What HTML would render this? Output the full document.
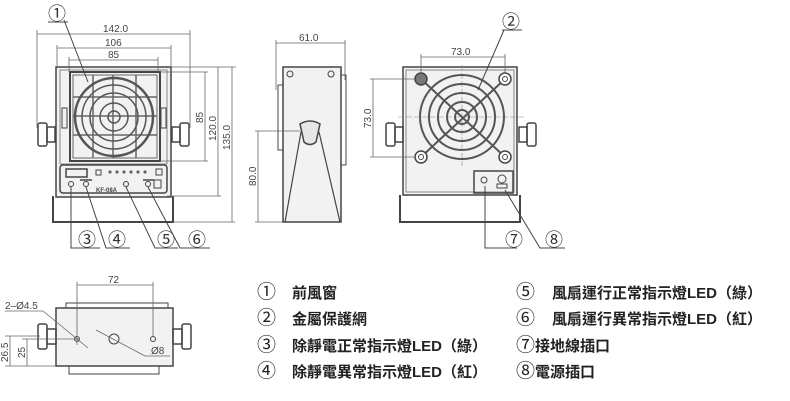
<!DOCTYPE html>
<html><head><meta charset="utf-8"><style>
html,body{margin:0;padding:0;background:#fff;}
svg{display:block;}
text{font-family:"Liberation Sans","Noto Sans CJK TC",sans-serif;}
</style></head><body>
<svg width="790" height="401" viewBox="0 0 790 401" xmlns="http://www.w3.org/2000/svg">
<g fill="none" stroke="#444" stroke-width="1">
<path d="M53 196 V222 H173 V196" stroke-width="2"/>
<rect x="56" y="67" width="115" height="130" fill="#f2f2f2" stroke-width="1.5"/>
<rect x="60" y="70" width="107" height="94" stroke="#888"/>
<rect x="70" y="72" width="90" height="89" stroke-width="2"/>
<rect x="73" y="75" width="84" height="83" stroke="#666"/>
<g stroke="#666" stroke-width="1.5">
<line x1="93" y1="75" x2="93" y2="158"/><line x1="113" y1="75" x2="113" y2="158"/><line x1="136" y1="75" x2="136" y2="158"/>
<line x1="73" y1="97" x2="157" y2="97"/><line x1="73" y1="116" x2="157" y2="116"/><line x1="73" y1="135" x2="157" y2="135"/>
</g>
<circle cx="114" cy="117" r="39" stroke-width="2.5" stroke="#555"/>
<circle cx="114" cy="117" r="32" stroke-width="1.5" stroke="#555"/>
<circle cx="114" cy="117" r="24" stroke-width="1.5" stroke="#555"/>
<circle cx="114" cy="117" r="14" stroke-width="1.5" stroke="#555"/>
<circle cx="114" cy="117" r="6" stroke-width="1.5" stroke="#555"/>
<rect x="62" y="108" width="5" height="20"/><rect x="161" y="108" width="5" height="20"/>
<rect x="60" y="165" width="107" height="28" rx="3" stroke-width="1.5"/>
<rect x="66" y="169" width="21" height="8" stroke-width="1.5"/>
<rect x="96" y="170" width="5" height="5"/>
<g fill="#666" stroke="none"><circle cx="110" cy="172" r="1.6"/><circle cx="117" cy="172" r="1.6"/><circle cx="124" cy="172" r="1.6"/><circle cx="131" cy="172" r="1.6"/><circle cx="138" cy="172" r="1.6"/><circle cx="145" cy="172" r="1.6"/></g>
<rect x="156" y="169" width="6" height="6"/>
<circle cx="71" cy="184" r="2.5"/><circle cx="86" cy="184" r="2.5"/><circle cx="126" cy="184" r="2.5"/><circle cx="148" cy="184" r="2.5"/>
<rect x="154" y="180" width="7" height="8"/>
<line x1="80" y1="180" x2="92" y2="180" stroke-width="1.5"/><line x1="143" y1="180" x2="154" y2="180" stroke-width="1.5"/>
<text x="96" y="192" font-size="6" fill="#444" stroke="none" font-weight="bold">KF-08A</text>
<rect x="38" y="123" width="9" height="23" rx="2" stroke-width="1.5"/><rect x="47" y="127" width="8" height="15" stroke-width="1.5"/>
<rect x="180" y="123" width="9" height="23" rx="2" stroke-width="1.5"/><rect x="172" y="127" width="8" height="15" stroke-width="1.5"/>
<g stroke="#666" stroke-width="0.8">
<line x1="37" y1="34" x2="190" y2="34"/><line x1="37" y1="30" x2="37" y2="128"/><line x1="190" y1="30" x2="190" y2="128"/>
<line x1="57" y1="48" x2="171" y2="48"/><line x1="57" y1="45" x2="57" y2="67"/><line x1="171" y1="45" x2="171" y2="67"/>
<line x1="69" y1="60" x2="158" y2="60"/><line x1="69" y1="57" x2="69" y2="72"/><line x1="158" y1="57" x2="158" y2="72"/>
<line x1="205" y1="72" x2="205" y2="161"/><line x1="160" y1="72" x2="208" y2="72"/><line x1="160" y1="161" x2="208" y2="161"/>
<line x1="218" y1="67" x2="218" y2="196"/><line x1="171" y1="67" x2="236" y2="67"/><line x1="167" y1="196" x2="221" y2="196"/>
<line x1="232" y1="67" x2="232" y2="222"/><line x1="173" y1="222" x2="235" y2="222"/>
</g>
<line x1="48" y1="22" x2="68" y2="22"/><line x1="64" y1="20" x2="88" y2="82"/>
<path d="M71 187 V248 H100"/><path d="M86 187 L106 248 H130"/><path d="M126 187 L155 248 H178"/><path d="M148 187 L180 248 H210"/>
<line x1="276" y1="43" x2="345" y2="43" stroke="#666" stroke-width="0.8"/>
<line x1="276" y1="40" x2="276" y2="90" stroke="#666" stroke-width="0.8"/><line x1="345" y1="40" x2="345" y2="80" stroke="#666" stroke-width="0.8"/>
<rect x="283" y="67" width="58" height="155" fill="#f2f2f2" stroke-width="1.5"/>
<rect x="278" y="85" width="5" height="65"/><rect x="341" y="75" width="5" height="90"/>
<circle cx="290" cy="74" r="3"/><circle cx="331" cy="74" r="3"/>
<path d="M300 124 Q310 118 320 124 L316 142 Q310 147 304 142 Z" fill="#e6e6e6" stroke-width="1.5"/>
<path d="M301 132 L285 222 M319 132 L340 222" stroke-width="1.2"/>
<line x1="258" y1="131" x2="258" y2="222" stroke="#666" stroke-width="0.8"/>
<line x1="255" y1="131" x2="300" y2="131" stroke="#666" stroke-width="0.8"/><line x1="255" y1="222" x2="283" y2="222" stroke="#666" stroke-width="0.8"/>
<path d="M400 195 V222 H520 V195" stroke-width="2"/>
<rect x="403" y="67" width="114" height="128" fill="#f2f2f2" stroke-width="1.5"/>
<rect x="406" y="70" width="108" height="122" stroke="#888"/>
<g stroke="#888" stroke-width="0.6" stroke-dasharray="6 2"><line x1="462" y1="65" x2="462" y2="166"/><line x1="398" y1="117" x2="525" y2="117"/></g>
<g stroke-width="2" stroke="#555">
<circle cx="462" cy="117" r="42"/><circle cx="462" cy="117" r="33"/><circle cx="462" cy="117" r="24"/><circle cx="462" cy="117" r="15"/><circle cx="462" cy="117" r="7"/>
<line x1="421" y1="79" x2="505" y2="157"/><line x1="505" y1="79" x2="421" y2="157"/>
</g>
<circle cx="421" cy="79" r="6" fill="#777" stroke-width="1.5"/><circle cx="505" cy="79" r="6" fill="#fff" stroke-width="1.5"/>
<circle cx="421" cy="157" r="6" fill="#fff" stroke-width="1.5"/><circle cx="505" cy="157" r="6" fill="#fff" stroke-width="1.5"/>
<circle cx="505" cy="79" r="2.5"/><circle cx="421" cy="157" r="2.5"/><circle cx="505" cy="157" r="2.5"/>
<rect x="474" y="171" width="39" height="22" stroke-width="1.5"/>
<circle cx="484" cy="180" r="3"/><circle cx="502" cy="179" r="4"/><rect x="497" y="184" width="10" height="4"/>
<rect x="386" y="123" width="9" height="23" rx="2" stroke-width="1.5"/><rect x="395" y="127" width="8" height="15" stroke-width="1.5"/>
<rect x="527" y="123" width="9" height="23" rx="2" stroke-width="1.5"/><rect x="519" y="127" width="8" height="15" stroke-width="1.5"/>
<g stroke="#666" stroke-width="0.8">
<line x1="421" y1="57" x2="505" y2="57"/><line x1="421" y1="54" x2="421" y2="73"/><line x1="505" y1="54" x2="505" y2="73"/>
<line x1="373" y1="79" x2="373" y2="157"/><line x1="370" y1="79" x2="415" y2="79"/><line x1="370" y1="157" x2="415" y2="157"/>
</g>
<line x1="502" y1="30" x2="522" y2="30"/><line x1="504" y1="30" x2="478" y2="90"/>
<path d="M485 186 V248 H517"/><path d="M505 190 L540 248 H565"/>
<rect x="66" y="303" width="102" height="6"/>
<rect x="56" y="308" width="117" height="58" fill="#f2f2f2" stroke-width="1.5"/>
<rect x="69" y="366" width="90" height="8"/>
<rect x="38" y="324" width="9" height="25" rx="2" stroke-width="1.5"/><rect x="47" y="329" width="9" height="15" stroke-width="1.5"/>
<rect x="182" y="324" width="9" height="25" rx="2" stroke-width="1.5"/><rect x="173" y="329" width="9" height="15" stroke-width="1.5"/>
<circle cx="77" cy="339" r="2.5"/><circle cx="153" cy="339" r="2.5"/><circle cx="114" cy="339" r="5"/>
<g stroke="#666" stroke-width="0.8">
<line x1="77" y1="285" x2="153" y2="285"/><line x1="77" y1="282" x2="77" y2="345"/><line x1="153" y1="282" x2="153" y2="336"/>
<line x1="5" y1="311" x2="43" y2="311"/><line x1="43" y1="311" x2="88" y2="348"/>
<line x1="96" y1="330" x2="145" y2="356"/><line x1="145" y1="356" x2="170" y2="356"/>
<line x1="10" y1="336" x2="10" y2="366"/><line x1="27" y1="339" x2="27" y2="366"/>
<line x1="5" y1="336" x2="40" y2="336"/><line x1="22" y1="339" x2="80" y2="339"/><line x1="5" y1="366" x2="56" y2="366"/>
</g>
</g>
<g fill="#444" font-size="10">
<text x="103" y="32">142.0</text><text x="105" y="46">106</text><text x="108" y="58">85</text>
<text transform="translate(203,123) rotate(-90)">85</text>
<text transform="translate(216,141) rotate(-90)">120.0</text>
<text transform="translate(230,150) rotate(-90)">135.0</text>
<text x="299" y="41">61.0</text>
<text transform="translate(256,186) rotate(-90)">80.0</text>
<text x="451" y="55">73.0</text>
<text transform="translate(371,128) rotate(-90)">73.0</text>
<text x="108" y="283">72</text>
<text x="5" y="309">2–Ø4.5</text>
<text x="151" y="354">Ø8</text>
<text transform="translate(8,362) rotate(-90)">26.5</text>
<text transform="translate(25,358) rotate(-90)">25</text>
</g>
<g fill="#333" font-size="18">
<text x="48" y="20">①</text><text x="78" y="246">③</text><text x="108" y="246">④</text><text x="157" y="246">⑤</text><text x="188" y="246">⑥</text>
<text x="502" y="28">②</text><text x="505" y="246">⑦</text><text x="545" y="246">⑧</text>
</g>
<g fill="#222" font-size="15" font-weight="bold">
<text x="257" y="298"><tspan font-weight="normal" font-size="19">①</tspan><tspan x="292">前風窗</tspan></text>
<text x="257" y="324"><tspan font-weight="normal" font-size="19">②</tspan><tspan x="292">金屬保護網</tspan></text>
<text x="257" y="351"><tspan font-weight="normal" font-size="19">③</tspan><tspan x="292">除靜電正常指示燈LED（綠）</tspan></text>
<text x="257" y="377"><tspan font-weight="normal" font-size="19">④</tspan><tspan x="292">除靜電異常指示燈LED（紅）</tspan></text>
<text x="516" y="298"><tspan font-weight="normal" font-size="19">⑤</tspan><tspan x="552">風扇運行正常指示燈LED（綠）</tspan></text>
<text x="516" y="324"><tspan font-weight="normal" font-size="19">⑥</tspan><tspan x="552">風扇運行異常指示燈LED（紅）</tspan></text>
<text x="516" y="351"><tspan font-weight="normal" font-size="19">⑦</tspan><tspan x="535">接地線插口</tspan></text>
<text x="516" y="377"><tspan font-weight="normal" font-size="19">⑧</tspan><tspan x="535">電源插口</tspan></text>
</g>
</svg>
</body></html>
